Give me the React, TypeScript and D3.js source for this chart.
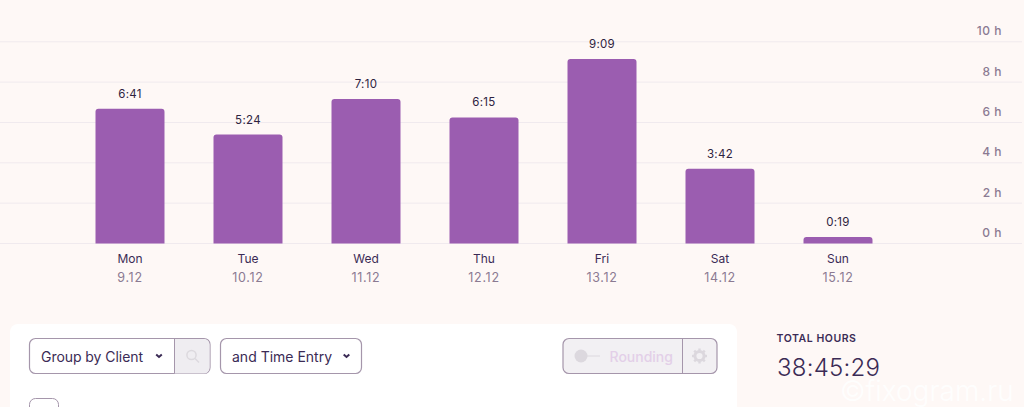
import React, { useEffect, useRef } from 'react';
import * as d3 from 'd3';

const days = ['Mon', 'Tue', 'Wed', 'Thu', 'Fri', 'Sat', 'Sun'];
const dates = ['9.12', '10.12', '11.12', '12.12', '13.12', '14.12', '15.12'];
const minutes = [401, 324, 430, 375, 549, 222, 19];
const hourTicks = [0, 2, 4, 6, 8, 10];

const width = 1024;
const height = 407;
const font = 'Inter, sans-serif';
const dark = '#3b2b55';
const muted = '#8b7a92';
const border = '#a596ab';

const fmt = (m: number) => `${Math.floor(m / 60)}:${String(m % 60).padStart(2, '0')}`;

const App: React.FC = () => {
  const svgRef = useRef<SVGSVGElement | null>(null);

  useEffect(() => {
    const svg = d3.select(svgRef.current);
    svg.selectAll('*').remove();
    svg.attr('font-family', font);

    svg.append('rect').attr('width', width).attr('height', height).attr('fill', '#fef8f6');

    const x = d3.scaleBand<string>()
      .domain(days)
      .range([95.5, 872.5])
      .paddingInner(0.4153)
      .paddingOuter(0);

    const y = d3.scaleLinear().domain([0, 10]).range([243.5, 41.8]);

    // Grid lines
    svg.append('g')
      .selectAll('line')
      .data(hourTicks)
      .join('line')
      .attr('x1', 0)
      .attr('x2', 1022)
      .attr('y1', d => y(d))
      .attr('y2', d => y(d))
      .attr('stroke', '#f0eaee')
      .attr('stroke-width', 1);

    // Right axis labels sit above their grid line
    svg.append('g')
      .selectAll('text')
      .data(hourTicks)
      .join('text')
      .attr('x', 1002)
      .attr('y', d => y(d) - 6.5)
      .attr('text-anchor', 'end')
      .attr('font-size', 12)
      .attr('font-weight', 500)
      .attr('letter-spacing', 0.5)
      .attr('fill', muted)
      .text(d => `${d} h`);

    // Bars, rounded at the top only
    const r = 3;
    svg.append('g')
      .selectAll('path')
      .data(minutes)
      .join('path')
      .attr('fill', '#9b5db0')
      .attr('d', (d, i) => {
        const x0 = x(days[i])!;
        const x1 = x0 + x.bandwidth();
        const top = y(d / 60);
        const base = y(0);
        return `M${x0},${base}V${top + r}Q${x0},${top} ${x0 + r},${top}H${x1 - r}Q${x1},${top} ${x1},${top + r}V${base}Z`;
      });

    // Value labels
    svg.append('g')
      .selectAll('text')
      .data(minutes)
      .join('text')
      .attr('x', (d, i) => x(days[i])! + x.bandwidth() / 2)
      .attr('y', d => y(d / 60) - 11)
      .attr('text-anchor', 'middle')
      .attr('font-size', 11.5)
      .attr('letter-spacing', 0.3)
      .attr('fill', '#2e2340')
      .text(d => fmt(d));

    // Category labels
    const cats = svg.append('g').selectAll('g').data(days).join('g')
      .attr('transform', d => `translate(${x(d)! + x.bandwidth() / 2},0)`);
    cats.append('text')
      .attr('y', 263)
      .attr('text-anchor', 'middle')
      .attr('font-size', 12)
      .attr('fill', dark)
      .text(d => d);
    cats.append('text')
      .attr('y', 281.5)
      .attr('text-anchor', 'middle')
      .attr('font-size', 12.5)
      .attr('letter-spacing', 0.7)
      .attr('fill', muted)
      .text((d, i) => dates[i]);

    // Card with the controls
    svg.append('rect')
      .attr('x', 10).attr('y', 324)
      .attr('width', 727).attr('height', 110)
      .attr('rx', 8)
      .attr('fill', '#ffffff');

    const box = (bx: number, w: number, fill: string) =>
      svg.append('rect')
        .attr('x', bx).attr('y', 338.5)
        .attr('width', w).attr('height', 35)
        .attr('rx', 6)
        .attr('fill', fill)
        .attr('stroke', border)
        .attr('stroke-width', 1.2);

    const chevron = (cx: number) =>
      svg.append('path')
        .attr('d', `M${cx - 2.8},354.5 L${cx},357 L${cx + 2.8},354.5`)
        .attr('fill', 'none')
        .attr('stroke', dark)
        .attr('stroke-width', 2);

    const divider = (dx: number) =>
      svg.append('line')
        .attr('x1', dx).attr('x2', dx)
        .attr('y1', 338.5).attr('y2', 373.5)
        .attr('stroke', border);

    // Group by Client + search
    box(29.5, 180.5, '#ffffff');
    svg.append('path')
      .attr('d', 'M174.5,339H204a5.5,5.5 0 0 1 5.5,5.5V368a5.5,5.5 0 0 1 -5.5,5.5H174.5Z')
      .attr('fill', '#efedf1');
    divider(174.5);
    svg.append('text').attr('x', 41).attr('y', 361.5).attr('font-size', 14).attr('letter-spacing', -0.05).attr('fill', dark).text('Group by Client');
    chevron(159);
    svg.append('circle').attr('cx', 191.5).attr('cy', 355).attr('r', 4.6)
      .attr('fill', 'none').attr('stroke', '#dcd9de').attr('stroke-width', 1.5);
    svg.append('line').attr('x1', 195).attr('y1', 358.5).attr('x2', 199).attr('y2', 362.5)
      .attr('stroke', '#dcd9de').attr('stroke-width', 1.5);

    // and Time Entry
    box(220.5, 141, '#ffffff');
    svg.append('text').attr('x', 232).attr('y', 361.5).attr('font-size', 14).attr('fill', dark).text('and Time Entry');
    chevron(346.5);

    // Rounding toggle, disabled
    box(563, 154, '#f2f0f3');
    divider(682.5);
    svg.append('circle').attr('cx', 581).attr('cy', 356).attr('r', 6.5).attr('fill', '#dcd8de');
    svg.append('line').attr('x1', 586).attr('x2', 600).attr('y1', 356).attr('y2', 356).attr('stroke', '#dcd8de').attr('stroke-width', 1);
    svg.append('text').attr('x', 609.5).attr('y', 361.5).attr('font-size', 14).attr('font-weight', 500).attr('fill', '#e3cfe8').text('Rounding');
    const gear = svg.append('g').attr('transform', 'translate(699.5,356)');
    gear.append('circle').attr('r', 4.6).attr('fill', 'none').attr('stroke', '#dcd8de').attr('stroke-width', 3);
    gear.selectAll('line')
      .data(d3.range(8))
      .join('line')
      .attr('x1', 0).attr('y1', -5).attr('x2', 0).attr('y2', -7.5)
      .attr('transform', d => `rotate(${d * 45})`)
      .attr('stroke', '#dcd8de')
      .attr('stroke-width', 2.4);

    // Row checkbox, cut off by the bottom edge
    svg.append('rect')
      .attr('x', 29.5).attr('y', 398.5)
      .attr('width', 29).attr('height', 29)
      .attr('rx', 6)
      .attr('fill', '#ffffff')
      .attr('stroke', border);

    // Totals
    svg.append('text')
      .attr('x', 776.5).attr('y', 342)
      .attr('font-size', 10.5)
      .attr('font-weight', 600)
      .attr('letter-spacing', 0.55)
      .attr('fill', dark)
      .text('TOTAL HOURS');
    svg.append('text')
      .attr('x', 777).attr('y', 375.5)
      .attr('font-size', 24)
      .attr('font-weight', 300)
      .attr('letter-spacing', 0.25)
      .attr('fill', dark)
      .text('38:45:29');

    // Watermark
    svg.append('text')
      .attr('x', 840).attr('y', 401)
      .attr('font-size', 28)
      .attr('font-weight', 300)
      .attr('fill', '#ffffff')
      .attr('fill-opacity', 0.9)
      .text('©fixogram.ru');
  }, []);

  return (
    <svg
      ref={svgRef}
      width={width}
      height={height}
      style={{ position: 'absolute', left: 0, top: 0, display: 'block' }}
    />
  );
};

export default App;
